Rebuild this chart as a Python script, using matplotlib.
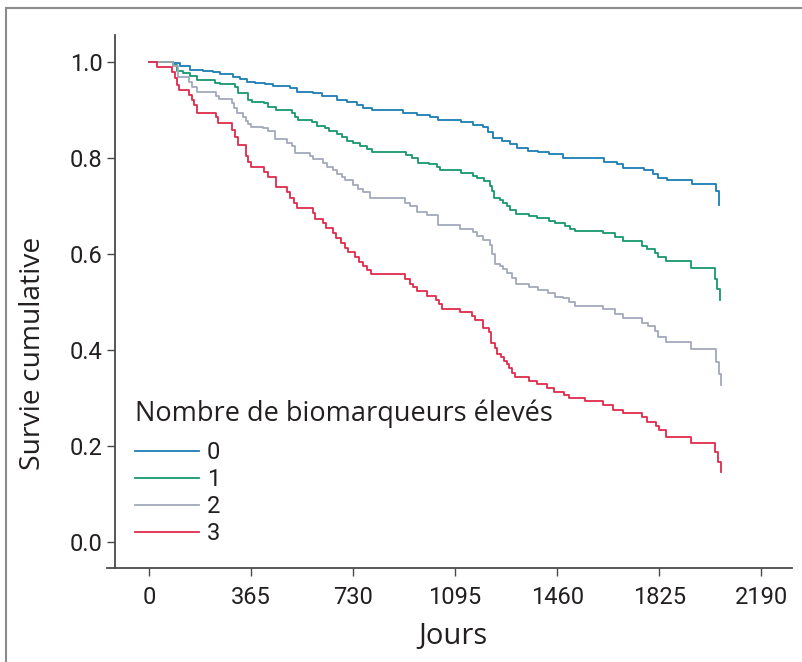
import matplotlib
matplotlib.use("Agg")
import matplotlib.pyplot as plt
from matplotlib.lines import Line2D
from matplotlib.font_manager import FontProperties

# --- Kaplan-Meier data (days, cumulative survival) ---
days_0 = [0, 87, 111, 147, 194, 230, 254, 302, 326, 350, 379, 415, 445, 504, 528, 588, 618,
          671, 707, 743, 767, 797, 910, 958, 1005, 1035, 1115, 1160, 1196, 1214, 1232, 1262,
          1292, 1316, 1357, 1393, 1432, 1482, 1628, 1673, 1697, 1769, 1804, 1822, 1852,
          1944, 2028, 2038]
surv_0 = [1.0, 0.998, 0.991, 0.983, 0.981, 0.978, 0.975, 0.969, 0.964, 0.959, 0.957, 0.953,
          0.950, 0.946, 0.937, 0.935, 0.928, 0.921, 0.917, 0.910, 0.905, 0.899, 0.894, 0.889,
          0.886, 0.878, 0.874, 0.869, 0.864, 0.855, 0.841, 0.836, 0.828, 0.820, 0.815, 0.812,
          0.808, 0.799, 0.792, 0.787, 0.780, 0.775, 0.767, 0.758, 0.753, 0.745, 0.732, 0.702]

days_1 = [0, 87, 99, 123, 147, 171, 236, 254, 308, 320, 355, 367, 411, 427, 454, 510, 522,
          534, 582, 600, 630, 645, 671, 689, 707, 731, 755, 779, 797, 920, 940, 964, 1000,
          1032, 1041, 1115, 1160, 1172, 1199, 1220, 1227, 1235, 1256, 1268, 1282, 1292, 1313,
          1360, 1389, 1432, 1453, 1488, 1506, 1524, 1623, 1667, 1697, 1763, 1780, 1810, 1820,
          1850, 1939, 2025, 2033, 2043]
surv_1 = [1.0, 0.994, 0.982, 0.976, 0.971, 0.962, 0.957, 0.953, 0.947, 0.936, 0.921, 0.917,
          0.914, 0.907, 0.899, 0.893, 0.886, 0.878, 0.874, 0.867, 0.862, 0.857, 0.850, 0.843,
          0.836, 0.832, 0.825, 0.819, 0.813, 0.806, 0.799, 0.790, 0.787, 0.782, 0.774, 0.768,
          0.762, 0.758, 0.751, 0.742, 0.732, 0.716, 0.712, 0.706, 0.699, 0.692, 0.683, 0.679,
          0.674, 0.669, 0.664, 0.658, 0.653, 0.648, 0.643, 0.635, 0.626, 0.617, 0.610, 0.601,
          0.593, 0.585, 0.570, 0.548, 0.528, 0.504]

days_2 = [0, 87, 105, 144, 153, 171, 240, 252, 296, 305, 314, 338, 347, 355, 365, 409, 425,
          451, 493, 510, 522, 576, 588, 621, 636, 659, 671, 689, 701, 731, 749, 767, 791, 916,
          934, 958, 993, 1035, 1113, 1160, 1172, 1194, 1220, 1226, 1238, 1256, 1268, 1282,
          1298, 1313, 1360, 1393, 1429, 1453, 1482, 1504, 1524, 1623, 1667, 1697, 1763, 1786,
          1810, 1820, 1850, 1939, 2029, 2040, 2045]
surv_2 = [1.0, 0.992, 0.968, 0.959, 0.948, 0.937, 0.930, 0.923, 0.914, 0.903, 0.894, 0.886,
          0.876, 0.871, 0.865, 0.862, 0.856, 0.839, 0.832, 0.824, 0.810, 0.804, 0.797, 0.789,
          0.781, 0.775, 0.767, 0.761, 0.753, 0.744, 0.735, 0.728, 0.716, 0.706, 0.699, 0.688,
          0.681, 0.660, 0.653, 0.646, 0.638, 0.629, 0.619, 0.600, 0.580, 0.575, 0.568, 0.560,
          0.549, 0.538, 0.531, 0.524, 0.518, 0.511, 0.508, 0.501, 0.492, 0.485, 0.475, 0.466,
          0.457, 0.449, 0.440, 0.428, 0.416, 0.402, 0.376, 0.351, 0.327]

days_3 = [0, 30, 81, 93, 99, 108, 144, 153, 162, 171, 240, 248, 298, 308, 317, 347, 355, 365,
          411, 425, 453, 495, 504, 519, 528, 586, 594, 621, 632, 657, 669, 687, 701, 713, 737,
          753, 765, 781, 793, 916, 934, 946, 958, 993, 1027, 1039, 1047, 1112, 1157, 1166,
          1194, 1218, 1224, 1238, 1244, 1258, 1270, 1280, 1288, 1298, 1309, 1360, 1389, 1425,
          1449, 1485, 1504, 1560, 1623, 1661, 1695, 1765, 1780, 1814, 1826, 1850, 1939, 2025,
          2037, 2045]
surv_3 = [1.0, 0.990, 0.978, 0.966, 0.952, 0.942, 0.931, 0.921, 0.910, 0.894, 0.886, 0.872,
          0.858, 0.843, 0.826, 0.803, 0.792, 0.782, 0.771, 0.760, 0.739, 0.728, 0.716, 0.706,
          0.695, 0.685, 0.672, 0.664, 0.654, 0.643, 0.633, 0.622, 0.612, 0.604, 0.593, 0.583,
          0.574, 0.567, 0.558, 0.547, 0.537, 0.531, 0.522, 0.513, 0.504, 0.496, 0.485, 0.480,
          0.471, 0.462, 0.445, 0.438, 0.414, 0.405, 0.392, 0.385, 0.378, 0.371, 0.362, 0.353,
          0.343, 0.336, 0.329, 0.320, 0.313, 0.306, 0.301, 0.294, 0.285, 0.276, 0.268, 0.260,
          0.251, 0.242, 0.233, 0.219, 0.207, 0.188, 0.166, 0.146]

group_labels = ["0", "1", "2", "3"]
group_colors = ["#1b7db4", "#17986c", "#a2a9bb", "#de2b4b"]
x_ticks = [0, 365, 730, 1095, 1460, 1825, 2190]
y_ticks = [0.0, 0.2, 0.4, 0.6, 0.8, 1.0]

TEXT_COL = "#231f20"
AXIS_COL = "#4a4a4a"
num_font = "Roboto"
word_font = "Open Sans"

fig = plt.figure(figsize=(8.03, 6.62), dpi=100)
ax = fig.add_axes([107 / 803, 94 / 662, 685 / 803, 533 / 662])

series = [(days_0, surv_0), (days_1, surv_1), (days_2, surv_2), (days_3, surv_3)]
for (t, s), lab, col in zip(series, group_labels, group_colors):
    ax.step(t, s, where="post", color=col, lw=1.3, label=lab)

ax.set_xlim(-150, 2300)
ax.set_ylim(-0.054, 1.056)
ax.set_xticks(x_ticks)
ax.set_yticks(y_ticks)
ax.set_xticklabels([str(v) for v in x_ticks])
ax.set_yticklabels([f"{v:.1f}" for v in y_ticks])

# y axis line sits a little right of the x axis start
ax.spines["left"].set_position(("data", -122))
for side in ("top", "right"):
    ax.spines[side].set_visible(False)
for side in ("left", "bottom"):
    ax.spines[side].set_color(AXIS_COL)
    ax.spines[side].set_linewidth(1.3)

ax.tick_params(axis="both", direction="out", length=6, width=1.0, color=AXIS_COL,
               labelcolor=TEXT_COL, labelsize=17)
ax.tick_params(axis="y", pad=3)
ax.tick_params(axis="x", pad=7)
for lbl in ax.get_xticklabels() + ax.get_yticklabels():
    lbl.set_family(num_font)

ax.set_ylabel("Survie cumulative", family=word_font, fontsize=20.3, color=TEXT_COL, va="center")
ax.yaxis.set_label_coords(-0.108, 0.403)
ax.set_xlabel("Jours", family=word_font, fontsize=21, color=TEXT_COL, va="center")
ax.xaxis.set_label_coords(0.505, -0.128)

leg = ax.legend(title="Nombre de biomarqueurs élevés", loc="upper left",
                bbox_to_anchor=(135 / 803, 1 - 399 / 662), bbox_transform=fig.transFigure,
                frameon=False, borderpad=0, borderaxespad=0,
                prop={"family": num_font, "size": 17},
                title_fontproperties=FontProperties(family=word_font, size=19.5),
                handlelength=2.7, handletextpad=0.35, labelspacing=0.17,
                alignment="left")
# extra room between the legend title and the first entry
leg._legend_box.sep = 10
for txt in leg.get_texts():
    txt.set_color(TEXT_COL)
leg.get_title().set_color(TEXT_COL)

# grey frame around the figure (left and top edges visible)
fig.add_artist(Line2D([6 / 803, 6 / 803], [0, 1 - 8 / 662], transform=fig.transFigure,
                      color="#8c8c8c", lw=1.5))
fig.add_artist(Line2D([6 / 803, 1], [1 - 8 / 662, 1 - 8 / 662], transform=fig.transFigure,
                      color="#8c8c8c", lw=1.5))

fig.savefig("out.png", dpi=100)
